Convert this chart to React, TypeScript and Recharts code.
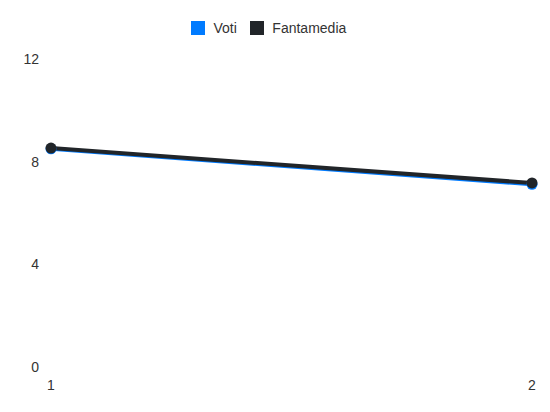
import { LineChart, Line, XAxis, YAxis, Legend } from 'recharts';

const giornate = [1, 2];
const voti = [8.5, 7.12];
const fantamedia = [8.53, 7.17];
const yTicks = [0, 4, 8, 12];

const data = giornate.map((g, i) => ({ g, voti: voti[i], fantamedia: fantamedia[i] }));

const FONT = '"Liberation Sans", Arial, Helvetica, sans-serif';

const legendItems = [
  { label: 'Voti', color: '#007bff' },
  { label: 'Fantamedia', color: '#212529' },
];

function ChartLegend() {
  return (
    <div
      style={{
        height: 59,
        display: 'flex',
        alignItems: 'flex-start',
        paddingTop: 21,
        paddingLeft: 191,
        boxSizing: 'border-box',
        fontFamily: FONT,
        fontSize: 14,
        color: '#333',
      }}
    >
      {legendItems.map((it, i) => (
        <div key={it.label} style={{ display: 'flex', alignItems: 'center', marginLeft: i ? 13 : 0 }}>
          <span style={{ width: 14, height: 14, background: it.color, marginRight: 8.5 }} />
          <span style={{ lineHeight: '14px' }}>{it.label}</span>
        </div>
      ))}
    </div>
  );
}

export default function App() {
  return (
    <div style={{ position: 'absolute', left: 0, top: 0 }}>
      <LineChart width={550} height={412} data={data} margin={{ top: 0, right: 18, bottom: 0, left: 0 }}>
        <Legend verticalAlign="top" content={<ChartLegend />} wrapperStyle={{ left: 0, width: 550 }} />
        <XAxis
          dataKey="g"
          type="number"
          domain={[1, 2]}
          ticks={giornate}
          axisLine={false}
          tickLine={false}
          tickSize={0}
          tickMargin={13}
          height={45}
          tick={{ fill: '#333', fontSize: 14, fontFamily: FONT }}
        />
        <YAxis
          domain={[0, 12]}
          ticks={yTicks}
          axisLine={false}
          tickLine={false}
          tickSize={0}
          tickMargin={12}
          width={51}
          tick={{ fill: '#333', fontSize: 14, fontFamily: FONT }}
        />
        <Line
          dataKey="voti"
          name="Voti"
          stroke="#007bff"
          strokeWidth={4}
          dot={{ r: 5.5, fill: '#007bff', stroke: '#007bff', strokeWidth: 0 }}
          isAnimationActive={false}
        />
        <Line
          dataKey="fantamedia"
          name="Fantamedia"
          stroke="#212529"
          strokeWidth={4}
          dot={{ r: 5.5, fill: '#212529', stroke: '#212529', strokeWidth: 0 }}
          isAnimationActive={false}
        />
      </LineChart>
    </div>
  );
}
